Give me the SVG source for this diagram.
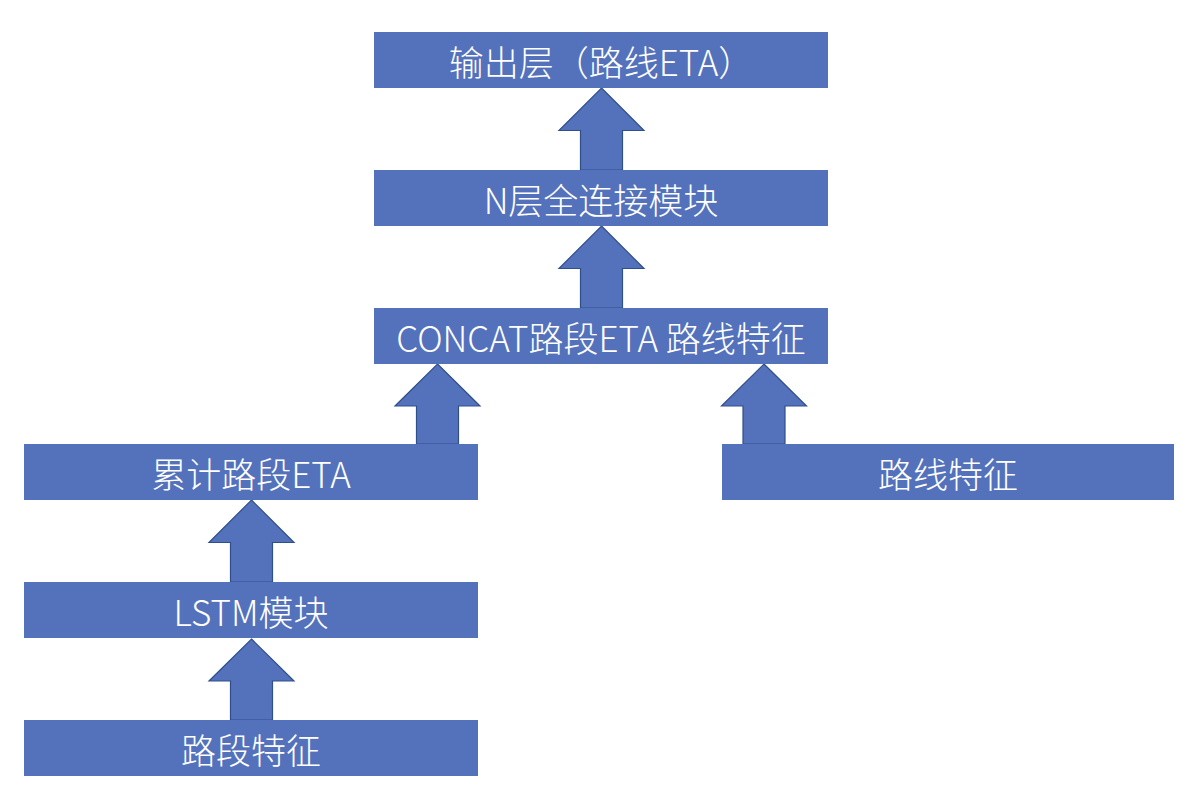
<svg xmlns="http://www.w3.org/2000/svg" width="1202" height="806" viewBox="0 0 1202 806">
<style>
.box{fill:#5472BC;}
.lbl{fill:#FFFFFF;font-family:"Noto Sans CJK SC","Noto Sans",sans-serif;font-size:35px;font-weight:300;text-anchor:middle;dominant-baseline:central;}
.arr{fill:#5472BC;stroke:#2F4F8A;stroke-width:1.2;stroke-linejoin:miter;}
</style>
<rect width="1202" height="806" fill="#FFFFFF"/>
<g id="connectors">
<polygon class="arr" points="601.5,88 644,130.5 622.5,130.5 622.5,170 580.5,170 580.5,130.5 559,130.5"/>
<polygon class="arr" points="601.5,226 644,268.5 622.5,268.5 622.5,308 580.5,308 580.5,268.5 559,268.5"/>
<polygon class="arr" points="437.5,364 480,406 458.5,406 458.5,444 416.5,444 416.5,406 395,406"/>
<polygon class="arr" points="764,364 806.5,406 785,406 785,444 743,444 743,406 721.5,406"/>
<polygon class="arr" points="251.5,500 294,542.5 272.5,542.5 272.5,582 230.5,582 230.5,542.5 209,542.5"/>
<polygon class="arr" points="251.5,639 294,681 272.5,681 272.5,720 230.5,720 230.5,681 209,681"/>
</g>
<g id="output">
<rect class="box" x="374" y="32" width="454" height="56"/>
<text class="lbl" x="601" y="60">输出层（路线ETA）</text>
</g>
<g id="fc">
<rect class="box" x="374" y="170" width="454" height="56"/>
<text class="lbl" x="601" y="198">N层全连接模块</text>
</g>
<g id="concat">
<rect class="box" x="374" y="308" width="454" height="56"/>
<text class="lbl" x="601" y="336">CONCAT路段ETA 路线特征</text>
</g>
<g id="cum">
<rect class="box" x="24" y="444" width="454" height="56"/>
<text class="lbl" x="251" y="472">累计路段ETA</text>
</g>
<g id="routefeat">
<rect class="box" x="722" y="444" width="452" height="56"/>
<text class="lbl" x="948" y="472">路线特征</text>
</g>
<g id="lstm">
<rect class="box" x="24" y="582" width="454" height="56"/>
<text class="lbl" x="251" y="610">LSTM模块</text>
</g>
<g id="segfeat">
<rect class="box" x="24" y="720" width="454" height="56"/>
<text class="lbl" x="251" y="748">路段特征</text>
</g>
</svg>
